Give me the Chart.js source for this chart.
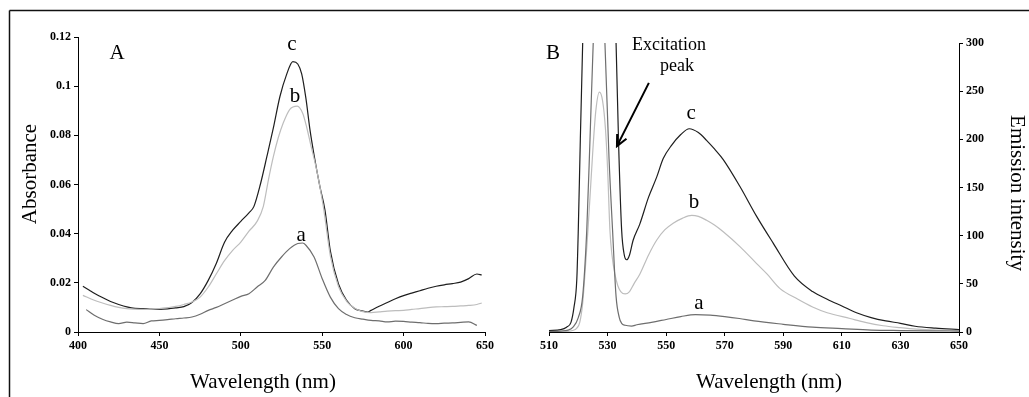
<!DOCTYPE html>
<html>
<head>
<meta charset="utf-8">
<script src="https://cdn.jsdelivr.net/npm/chart.js@4.4.1/dist/chart.umd.min.js"></script>
<style>
  html, body { margin: 0; padding: 0; background: #fff; }
  #wrap { position: relative; width: 1029px; height: 397px; }
  canvas { position: absolute; top: 0; }
  #chartA { left: 0; }
  #chartB { left: 515px; }
</style>
</head>
<body>
<div id="wrap">
  <canvas id="chartA" width="515" height="397" style="width:515px;height:397px"></canvas>
  <canvas id="chartB" width="514" height="397" style="width:514px;height:397px"></canvas>
</div>
<script>
// ---- panel A: absorbance spectra ----
const absTicksX = [400, 450, 500, 550, 600, 650];
const absTicksY = [0, 0.02, 0.04, 0.06, 0.08, 0.1, 0.12];

const absA_wl = [405, 410, 415, 420, 425, 430, 435, 440, 445, 450, 455, 460, 465, 470, 475, 480, 485, 490, 495, 500, 505, 510, 515, 520, 525, 530, 535, 538, 540, 545, 550, 555, 560, 565, 570, 575, 580, 585, 590, 595, 600, 605, 610, 615, 620, 625, 630, 635, 640, 645];
const absA_val = [0.0091, 0.0068, 0.0052, 0.0041, 0.0034, 0.0040, 0.0037, 0.0034, 0.0045, 0.0047, 0.0050, 0.0054, 0.0057, 0.0061, 0.0072, 0.0088, 0.0100, 0.0115, 0.0130, 0.0145, 0.0156, 0.0183, 0.0210, 0.0264, 0.0305, 0.0339, 0.0360, 0.0362, 0.0353, 0.0305, 0.0217, 0.0142, 0.0095, 0.0071, 0.0058, 0.0052, 0.0047, 0.0045, 0.0041, 0.0044, 0.0043, 0.0040, 0.0038, 0.0035, 0.0034, 0.0036, 0.0037, 0.0039, 0.0041, 0.0027];

const absB_wl = [403, 410, 415, 420, 425, 430, 435, 440, 445, 450, 455, 460, 465, 470, 475, 480, 485, 490, 495, 500, 505, 510, 513.8, 517, 520, 523, 526, 530, 534.7, 538, 540.4, 543, 546.6, 550.7, 555, 560, 565, 570, 575, 580, 585, 590, 595, 600, 605, 610, 615, 620, 625, 630, 635, 640, 645, 648];
const absB_val = [0.0149, 0.0129, 0.0118, 0.0108, 0.0100, 0.0095, 0.0093, 0.0092, 0.0093, 0.0095, 0.0099, 0.0104, 0.0112, 0.0122, 0.0142, 0.0183, 0.0237, 0.0290, 0.0332, 0.0366, 0.0410, 0.0450, 0.0510, 0.0620, 0.0713, 0.0790, 0.0849, 0.0905, 0.0919, 0.0890, 0.0835, 0.0760, 0.0659, 0.0510, 0.0310, 0.0185, 0.0125, 0.0097, 0.0083, 0.0079, 0.0082, 0.0085, 0.0087, 0.0088, 0.0092, 0.0095, 0.0099, 0.0102, 0.0103, 0.0104, 0.0106, 0.0108, 0.0112, 0.0118];

const absC_wl = [403, 407, 410, 415, 420, 425, 430, 435, 440, 445, 450, 455, 460, 465, 470, 475, 480, 485, 490, 495, 500, 505, 508, 512, 516, 520, 524, 528, 532, 535, 537.4, 540, 542.5, 545, 548.6, 551.7, 555, 560, 565, 570, 575, 578, 580, 585, 590, 595, 600, 605, 610, 615, 620, 625, 630, 635, 640, 645, 648];
const absC_val = [0.0186, 0.0170, 0.0158, 0.0140, 0.0124, 0.0112, 0.0102, 0.0096, 0.0095, 0.0093, 0.0092, 0.0094, 0.0098, 0.0103, 0.0120, 0.0155, 0.0210, 0.0280, 0.0365, 0.0414, 0.0450, 0.0485, 0.0510, 0.0600, 0.0713, 0.0830, 0.0957, 0.1045, 0.1100, 0.1090, 0.1050, 0.0950, 0.0822, 0.0720, 0.0591, 0.0496, 0.0330, 0.0195, 0.0129, 0.0095, 0.0085, 0.0081, 0.0088, 0.0105, 0.0120, 0.0135, 0.0148, 0.0158, 0.0168, 0.0178, 0.0186, 0.0192, 0.0197, 0.0203, 0.0217, 0.0236, 0.0232];

// ---- panel B: emission spectra ----
const emTicksX = [510, 530, 550, 570, 590, 610, 630, 650];
const emTicksY = [0, 50, 100, 150, 200, 250, 300];

const emA_wl = [510, 514, 516.5, 518.2, 520, 521.5, 522.9, 524, 525.1, 527, 529.1, 530.5, 531.7, 532.9, 534, 534.8, 536, 538.2, 540, 545, 550, 555, 560, 565, 570, 575, 580, 590, 600, 610, 620, 630, 640, 650];
const emA_val = [0.5, 1, 2, 5, 15, 37, 106, 200, 300, 420, 300, 180, 106, 37, 15, 9, 7, 6.2, 7.5, 10, 13, 16, 18, 17.5, 16, 14, 11.5, 8, 5, 3.5, 2, 1.5, 1.2, 1];

const emB_wl = [510, 516, 518, 519.5, 520.5, 521.5, 522.5, 523.3, 524, 525, 526, 527.2, 528.3, 529.3, 530, 530.8, 531.5, 532.5, 533.5, 534.5, 536, 537.5, 539, 541, 544, 546.8, 549.5, 552.4, 555.5, 558.7, 561, 563.8, 566.5, 569.5, 575.2, 580.9, 584.5, 588.9, 595, 600, 605, 612.8, 618, 624.1, 630, 635.5, 642, 650];
const emB_val = [0, 0.5, 1.5, 4, 10, 30, 70, 106, 140, 190, 230, 249, 240, 210, 170, 106, 80, 60, 48, 42, 39.5, 42, 50, 60, 80, 95.5, 106, 113, 118, 121, 120, 116, 111, 104, 88.6, 71, 60, 45, 34, 26, 20, 14, 10, 6.5, 4.5, 3, 2, 1.5];

const emC_wl = [510, 514, 516, 517.5, 518.5, 519.5, 520, 520.7, 521.5, 523, 527, 531, 532.3, 532.9, 533.8, 534.8, 535.7, 536.5, 537.5, 538.7, 541, 544, 546.8, 549, 551.9, 555, 557.9, 561, 563.8, 566.5, 569.5, 575.2, 580.9, 586.6, 593.8, 600, 605, 610, 615, 620, 625, 630, 635, 642, 650];
const emC_val = [1.5, 2.5, 5, 10, 25, 55, 106, 200, 300, 500, 700, 500, 360, 300, 192, 106, 80, 75, 80, 95, 112, 140, 161, 180, 194, 205, 211, 207, 199, 190, 179, 151, 120, 92, 58, 42, 34, 27, 20, 15, 11.5, 9, 6, 4, 2.5];

const colA = '#6e6e6e';
const colB = '#bdbdbd';
const colC = '#1e1e1e';
const serif = '"Liberation Serif", "Times New Roman", serif';

function pts(xs, ys) { return xs.map((x, i) => ({ x: x, y: ys[i] })); }

function line(label, xs, ys, color) {
  return {
    label: label,
    data: pts(xs, ys),
    borderColor: color,
    borderWidth: 1.2,
    pointRadius: 0,
    fill: false,
    cubicInterpolationMode: 'monotone'
  };
}

function axisStyle() {
  return {
    type: 'linear',
    grid: { drawOnChartArea: false, drawTicks: true, tickLength: 4, color: '#000', lineWidth: 1 },
    border: { display: true, color: '#000', width: 1 },
    ticks: { color: '#000', padding: 3, font: { family: serif, size: 12, weight: 'bold' } }
  };
}

// text / arrow / frame drawn on top of each panel
const notes = {
  id: 'notes',
  afterDraw(chart, args, o) {
    const ctx = chart.ctx;
    const sx = chart.scales.x, sy = chart.scales.y;
    ctx.save();
    ctx.fillStyle = '#000';
    ctx.strokeStyle = '#111';
    ctx.textAlign = 'center';
    ctx.textBaseline = 'middle';
    // frame
    ctx.lineWidth = 1.5;
    ctx.beginPath();
    ctx.moveTo(o.frameLeft ? 9.5 : 0, 10.5);
    ctx.lineTo(chart.width, 10.5);
    if (o.frameLeft) { ctx.moveTo(9.5, 10.5); ctx.lineTo(9.5, chart.height); }
    ctx.stroke();
    // labels in data units
    (o.labels || []).forEach(l => {
      ctx.font = l.size + 'px ' + serif;
      ctx.fillText(l.text, sx.getPixelForValue(l.x), sy.getPixelForValue(l.y));
    });
    // axis titles in canvas pixels
    (o.titles || []).forEach(t => {
      ctx.save();
      ctx.translate(t.px, t.py);
      ctx.rotate(t.rot);
      ctx.font = '21px ' + serif;
      ctx.fillText(t.text, 0, 0);
      ctx.restore();
    });
    // arrow
    if (o.arrow) {
      const a = o.arrow;
      const x1 = sx.getPixelForValue(a.x1), y1 = sy.getPixelForValue(a.y1);
      const x2 = sx.getPixelForValue(a.x2), y2 = sy.getPixelForValue(a.y2);
      const ang = Math.atan2(y2 - y1, x2 - x1);
      ctx.strokeStyle = '#000';
      ctx.lineWidth = 2;
      ctx.beginPath();
      ctx.moveTo(x1, y1);
      ctx.lineTo(x2, y2);
      ctx.moveTo(x2 - 12 * Math.cos(ang - 0.45), y2 - 12 * Math.sin(ang - 0.45));
      ctx.lineTo(x2, y2);
      ctx.lineTo(x2 - 12 * Math.cos(ang + 0.45), y2 - 12 * Math.sin(ang + 0.45));
      ctx.stroke();
    }
    ctx.restore();
  }
};

// panel A
const xA = axisStyle();
xA.min = 400; xA.max = 650;
xA.afterBuildTicks = s => { s.ticks = absTicksX.map(v => ({ value: v })); };
xA.afterFit = s => { s.height = 65; };
const yA = axisStyle();
yA.min = 0; yA.max = 0.12;
yA.afterBuildTicks = s => { s.ticks = absTicksY.map(v => ({ value: v })); };
yA.ticks.callback = v => String(+v.toFixed(2));
yA.afterFit = s => { s.width = 78; };

new Chart(document.getElementById('chartA'), {
  type: 'line',
  data: {
    datasets: [
      line('a', absA_wl, absA_val, colA),
      line('b', absB_wl, absB_val, colB),
      line('c', absC_wl, absC_val, colC)
    ]
  },
  options: {
    responsive: false,
    animation: false,
    layout: { padding: { left: 0, right: 30, top: 37, bottom: 0 } },
    scales: { x: xA, y: yA },
    plugins: {
      legend: { display: false },
      tooltip: { enabled: false },
      notes: {
        frameLeft: true,
        labels: [
          { text: 'A', x: 424, y: 0.1131, size: 21 },
          { text: 'c', x: 531.4, y: 0.1168, size: 21 },
          { text: 'b', x: 533.3, y: 0.0956, size: 21 },
          { text: 'a', x: 537, y: 0.0391, size: 21 }
        ],
        titles: [
          { text: 'Absorbance', px: 30, py: 174, rot: -Math.PI / 2 },
          { text: 'Wavelength (nm)', px: 263, py: 382, rot: 0 }
        ]
      }
    }
  },
  plugins: [notes]
});

// panel B
const xB = axisStyle();
xB.min = 510; xB.max = 650;
xB.afterBuildTicks = s => { s.ticks = emTicksX.map(v => ({ value: v })); };
xB.afterFit = s => { s.height = 65; };
const yB = axisStyle();
yB.position = 'right';
yB.min = 0; yB.max = 300;
yB.afterBuildTicks = s => { s.ticks = emTicksY.map(v => ({ value: v })); };
yB.afterFit = s => { s.width = 70; };

new Chart(document.getElementById('chartB'), {
  type: 'line',
  data: {
    datasets: [
      line('a', emA_wl, emA_val, colA),
      line('b', emB_wl, emB_val, colB),
      line('c', emC_wl, emC_val, colC)
    ]
  },
  options: {
    responsive: false,
    animation: false,
    layout: { padding: { left: 34, right: 0, top: 43, bottom: 0 } },
    scales: { x: xB, y: yB },
    plugins: {
      legend: { display: false },
      tooltip: { enabled: false },
      notes: {
        frameLeft: false,
        labels: [
          { text: 'B', x: 511.4, y: 288.7, size: 21 },
          { text: 'Excitation', x: 551, y: 298, size: 18 },
          { text: 'peak', x: 553.7, y: 276, size: 18 },
          { text: 'c', x: 558.5, y: 227, size: 21 },
          { text: 'b', x: 559.5, y: 134, size: 21 },
          { text: 'a', x: 561.2, y: 30, size: 21 }
        ],
        titles: [
          { text: 'Emission intensity', px: 502, py: 193, rot: Math.PI / 2 },
          { text: 'Wavelength (nm)', px: 254, py: 382, rot: 0 }
        ],
        arrow: { x1: 544.1, y1: 258.6, x2: 533.2, y2: 193 }
      }
    }
  },
  plugins: [notes]
});
</script>
</body>
</html>
